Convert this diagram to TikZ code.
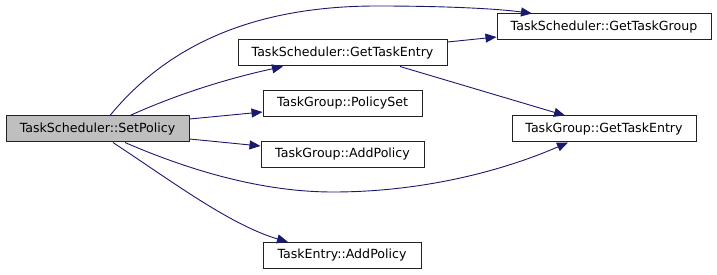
\documentclass[tikz,border=0pt]{standalone}
\usepackage{fontspec}
\setmainfont{DejaVu Sans}
\usetikzlibrary{arrows.meta}
\definecolor{edgeblue}{HTML}{191970}
\definecolor{rootgray}{HTML}{BFBFBF}
\definecolor{boxline}{HTML}{222222}
\begin{document}
\begin{tikzpicture}[x=1pt,y=-1pt,
  fn/.style={draw=boxline,line width=1pt,fill=white,inner sep=0pt,
    minimum height=26pt,font=\fontsize{12.6}{14}\selectfont,text=black},
  rootfn/.style={fn,fill=rootgray},
  call/.style={draw=edgeblue,line width=0.9pt,
    -{Stealth[length=11pt,width=9pt,inset=0pt]}},
]
\useasboundingbox (0,0) rectangle (717,275);

% functions
\node[rootfn,minimum width=183pt] (sp) at (97.5,129) {TaskScheduler::SetPolicy};
\node[fn,minimum width=209pt] (ge) at (342.5,53) {TaskScheduler::GetTaskEntry};
\node[fn,minimum width=214pt] (gg) at (604,27) {TaskScheduler::GetTaskGroup};
\node[fn,minimum width=159pt] (ps) at (342.5,103.5) {TaskGroup::PolicySet};
\node[fn,minimum width=163pt] (ap) at (342.5,154.5) {TaskGroup::AddPolicy};
\node[fn,minimum width=184pt] (tg) at (604,129) {TaskGroup::GetTaskEntry};
\node[fn,minimum width=158pt] (te) at (342,255.5) {TaskEntry::AddPolicy};

% calls
\draw[call] ([xshift=12.5pt]sp.north) .. controls (180,30) and (280,6) .. (377,6)
  .. controls (450,6) and (500,9) .. ([xshift=-72pt]gg.north);
\draw[call] ([xshift=32.5pt]sp.north) .. controls (180,93) and (230,78) .. ([xshift=-59.5pt]ge.south);
\draw[call] ([yshift=11pt]ge.east) -- ([yshift=-10pt]gg.west);
\draw[call] ([xshift=57.5pt]ge.south) -- ([xshift=-39pt]tg.north);
\draw[call] ([yshift=10pt]sp.east) -- ([yshift=-8.5pt]ps.west);
\draw[call] ([yshift=-10pt]sp.east) -- ([yshift=8.5pt]ap.west);
\draw[call] ([xshift=27.5pt]sp.south) .. controls (200,175) and (270,192) .. (333,192)
  .. controls (420,192) and (500,172) .. ([xshift=-36pt]tg.south);
\draw[call] ([xshift=15.5pt]sp.south) .. controls (170,180) and (230,225) .. ([xshift=-54pt]te.north);
\end{tikzpicture}
\end{document}
